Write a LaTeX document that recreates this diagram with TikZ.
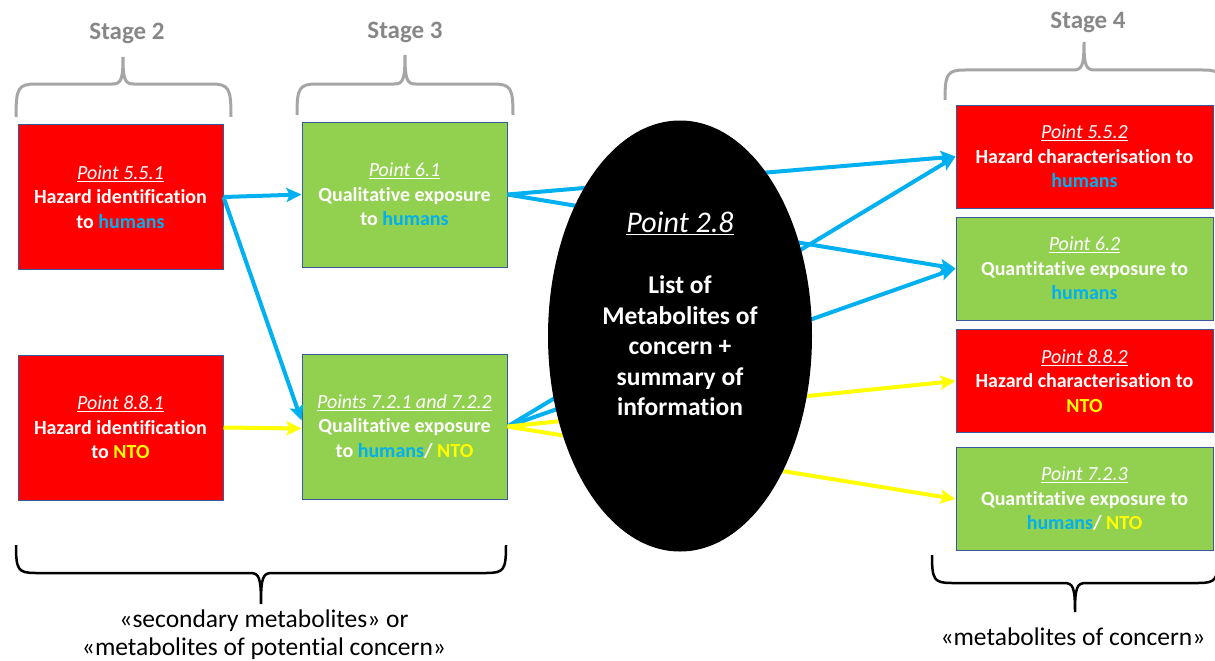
\documentclass[tikz,border=0pt]{standalone}
\usepackage{fontspec}
\setmainfont[Ligatures=NoCommon]{Carlito}
\usetikzlibrary{arrows.meta,shapes.geometric,calc}

\definecolor{boxred}{RGB}{255,0,0}
\definecolor{boxgreen}{RGB}{146,208,80}
\definecolor{hblue}{RGB}{0,176,240}
\definecolor{ntoyellow}{RGB}{255,255,0}
\definecolor{boxedge}{RGB}{55,90,155}
\definecolor{stagetext}{RGB}{135,135,135}
\definecolor{stagebrace}{RGB}{166,166,166}

\newcommand{\hum}{\textcolor{hblue}{humans}}
\newcommand{\nto}{\textcolor{ntoyellow}{NTO}}
\newcommand{\pointref}[1]{{\mdseries\itshape\underline{#1}}}

\tikzset{
  card/.style={draw=boxedge, line width=1pt, text=white, align=center,
    inner sep=0pt, font=\fontsize{20}{24.5}\selectfont\bfseries},
  leftcard/.style={card, minimum width=205pt, minimum height=145pt},
  rightcard/.style={card, minimum width=257pt, minimum height=103pt},
  hazard/.style={fill=boxred},
  exposure/.style={fill=boxgreen},
  flow/.style={line width=4pt, -{Stealth[length=15pt,width=14pt,inset=3pt]}},
  humanflow/.style={flow, draw=hblue},
  ntoflow/.style={flow, draw=ntoyellow},
  stagebr/.style={draw=stagebrace, line width=3pt},
  groupbr/.style={draw=black, line width=2.5pt},
  stagelabel/.style={text=stagetext, font=\fontsize{25}{28}\selectfont\bfseries},
  grouplabel/.style={align=center, font=\fontsize{25.5}{28}\selectfont},
}

\begin{document}
\begin{tikzpicture}[x=1pt,y=-1pt]
\clip (0,0) rectangle (1215,661);
\fill[white] (0,0) rectangle (1215,661);

% stage 2 and 3 boxes
\node[leftcard,hazard]   (b551) at (120.5,197)   {\pointref{Point 5.5.1}\\Hazard identification\\to \hum};
\node[leftcard,exposure] (b61)  at (404.5,194.5) {\pointref{Point 6.1}\\Qualitative exposure\\to \hum};
\node[leftcard,hazard]   (b881) at (120.5,427.5) {\pointref{Point 8.8.1}\\Hazard identification\\to \nto};
\node[leftcard,exposure] (b721) at (404.5,426.5) {\pointref{Points 7.2.1 and 7.2.2}\\Qualitative exposure\\to \hum/ \nto};

% stage 4 boxes
\node[rightcard,hazard]   (b552) at (1084.5,156.5) {\pointref{Point 5.5.2}\\Hazard characterisation to\\\hum};
\node[rightcard,exposure] (b62)  at (1084.5,268.5) {\pointref{Point 6.2}\\Quantitative exposure to\\\hum};
\node[rightcard,hazard]   (b882) at (1084.5,381)   {\pointref{Point 8.8.2}\\Hazard characterisation to\\\nto};
\node[rightcard,exposure] (b723) at (1084.5,499)   {\pointref{Point 7.2.3}\\Quantitative exposure to\\\hum/ \nto};

% flows between stages
\draw[humanflow] (b551.east) -- (b61.west);
\draw[humanflow] (b551.east) -- ($(b721.west)+(0,-6)$);
\draw[ntoflow]   (b881.east) -- ($(b721.west)+(0,2)$);
\draw[humanflow] (b61.east) -- (b552.west);
\draw[humanflow] (b61.east) -- (b62.west);
\draw[humanflow] (b721.east) -- (b552.west);
\draw[humanflow] (b721.east) -- (b62.west);
\draw[ntoflow]   (b721.east) -- (b882.west);
\draw[ntoflow]   (b721.east) -- (b723.west);

% central list of metabolites
\node[ellipse, fill=black, inner sep=0pt, minimum width=264pt, minimum height=431pt] (e28) at (680,336) {};
\node[text=white, align=center, font=\fontsize{25.5}{30.5}\selectfont\bfseries] (e28txt) at (680,314)
  {{\fontsize{30}{30.5}\selectfont\pointref{Point 2.8}}\\[31pt]List of\\Metabolites of\\concern +\\summary of\\information};

% stage braces
\draw[stagebr] (16,117) .. controls (16,88) and (18,84) .. (36,84) -- (112,84)
  .. controls (121,84) and (123,80) .. (123,57) .. controls (123,80) and (125,84) .. (134,84)
  -- (211,84) .. controls (229,84) and (231,88) .. (231,117);
\draw[stagebr] (297,115) .. controls (297,88) and (299,84) .. (317,84) -- (394,84)
  .. controls (403,84) and (405,80) .. (405,55) .. controls (405,80) and (407,84) .. (416,84)
  -- (493,84) .. controls (511,84) and (513,88) .. (513,115);
\draw[stagebr] (945,100) .. controls (945,74) and (947,70) .. (965,70) -- (1073,70)
  .. controls (1082,70) and (1084,66) .. (1084,42) .. controls (1084,66) and (1086,70) .. (1095,70)
  -- (1203,70) .. controls (1221,70) and (1223,74) .. (1223,100);
\node[stagelabel] (s2) at (127,33) {Stage 2};
\node[stagelabel] (s3) at (405,32) {Stage 3};
\node[stagelabel] (s4) at (1088,22) {Stage 4};

% group braces
\draw[groupbr] (16,545) .. controls (16,570) and (18,573) .. (36,573) -- (250,573)
  .. controls (259,573) and (261,577) .. (261,604) .. controls (261,577) and (263,573) .. (272,573)
  -- (486,573) .. controls (504,573) and (506,570) .. (506,545);
\draw[groupbr] (932,555) .. controls (932,580) and (934,583) .. (952,583) -- (1064,583)
  .. controls (1073,583) and (1075,587) .. (1075,612) .. controls (1075,587) and (1077,583) .. (1086,583)
  -- (1198,583) .. controls (1216,583) and (1218,580) .. (1218,555);
\node[grouplabel] (g1) at (264,635) {«secondary metabolites» or\\«metabolites of potential concern»};
\node[grouplabel] (g2) at (1073,637) {«metabolites of concern»};
\end{tikzpicture}
\end{document}
